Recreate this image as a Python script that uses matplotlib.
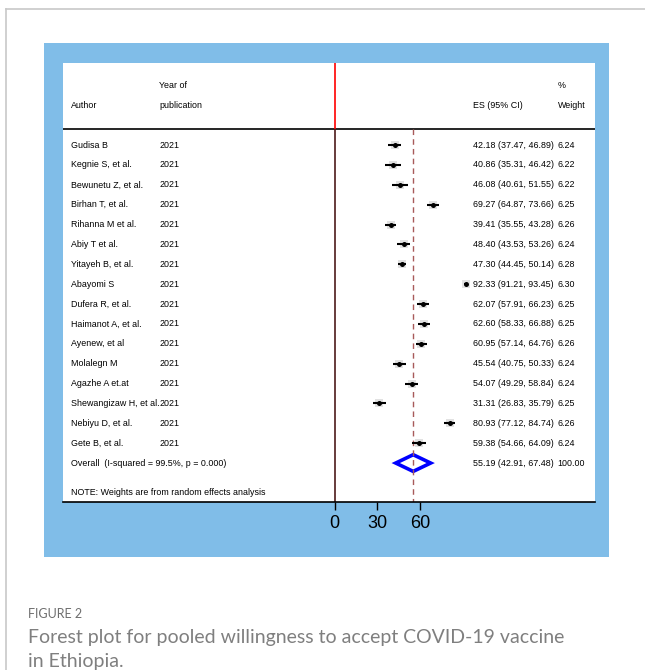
import matplotlib
matplotlib.use('Agg')
import matplotlib.pyplot as plt
from matplotlib.patches import Rectangle, Polygon
from matplotlib.lines import Line2D

authors = ["Gudisa B", "Kegnie S, et al.", "Bewunetu Z, et al.", "Birhan T, et al.",
           "Rihanna M et al.", "Abiy T et al.", "Yitayeh B, et al.", "Abayomi S",
           "Dufera R, et al.", "Haimanot A, et al.", "Ayenew, et al", "Molalegn M",
           "Agazhe A et.at", "Shewangizaw H, et al.", "Nebiyu D, et al.", "Gete B, et al."]
years = ["2021"] * 16
es = [42.18, 40.86, 46.08, 69.27, 39.41, 48.40, 47.30, 92.33, 62.07, 62.60, 60.95,
      45.54, 54.07, 31.31, 80.93, 59.38]
lo = [37.47, 35.31, 40.61, 64.87, 35.55, 43.53, 44.45, 91.21, 57.91, 58.33, 57.14,
      40.75, 49.29, 26.83, 77.12, 54.66]
hi = [46.89, 46.42, 51.55, 73.66, 43.28, 53.26, 50.14, 93.45, 66.23, 66.88, 64.76,
      50.33, 58.84, 35.79, 84.74, 64.09]
weights = [6.24, 6.22, 6.22, 6.25, 6.26, 6.24, 6.28, 6.30, 6.25, 6.25, 6.26, 6.24,
           6.24, 6.25, 6.26, 6.24]
overall_es, overall_lo, overall_hi = 55.19, 42.91, 67.48
overall_label = "Overall  (I-squared = 99.5%, p = 0.000)"
overall_weight = "100.00"
xticks = [0, 30, 60]

W, H = 645, 670
fig = plt.figure(figsize=(W / 100, H / 100), dpi=100)
fig.patch.set_facecolor('white')

def fx(x):
    return x / W

def fy(y):
    return 1 - y / H

# outer light border
fig.add_artist(Line2D([fx(6), fx(6)], [fy(9), fy(670)], color='#c8c8c8', lw=1.2, zorder=-2))
fig.add_artist(Line2D([fx(6), fx(645)], [fy(9), fy(9)], color='#c8c8c8', lw=1.2, zorder=-2))

# blue panel
fig.add_artist(Rectangle((fx(44), fy(557)), fx(609) - fx(44), fy(43) - fy(557),
                         transform=fig.transFigure, facecolor='#80bde8', edgecolor='none',
                         zorder=-1))

ax = fig.add_axes([fx(63), fy(502), fx(595) - fx(63), fy(63) - fy(502)])
ax.set_zorder(1)
ax.set_facecolor('white')
ax.set_xlim(-191, 183)
ax.set_ylim(17.96, -4.13)
for s in ['top', 'left', 'right']:
    ax.spines[s].set_visible(False)
ax.spines['bottom'].set_color('black')
ax.spines['bottom'].set_linewidth(1.2)
ax.set_yticks([])
ax.set_xticks(xticks)
ax.set_xticklabels([str(t) for t in xticks], fontsize=13, family='Liberation Sans')
ax.tick_params(axis='x', length=5.5, width=1, color='black', pad=4)

fam = 'Liberation Sans'
fs = 6.4
header_y = -0.8
n = len(authors)
overall_row = n

# header
ax.text(-185.6, -2.01, "Author", fontsize=fs, family=fam, va='center', ha='left')
ax.text(-123.5, -3.02, "Year of", fontsize=fs, family=fam, va='center', ha='left')
ax.text(-123.5, -2.01, "publication", fontsize=fs, family=fam, va='center', ha='left')
ax.text(97.2, -2.01, "ES (95% CI)", fontsize=fs, family=fam, va='center', ha='left')
ax.text(156.8, -3.02, "%", fontsize=fs, family=fam, va='center', ha='left')
ax.text(156.8, -2.01, "Weight", fontsize=fs, family=fam, va='center', ha='left')
ax.axhline(header_y, color='black', lw=1.2)

# reference lines
ax.plot([0, 0], [-4.13, header_y], color='red', lw=1.2, solid_capstyle='butt')
ax.plot([0, 0], [header_y, 17.96], color='#4d1a1a', lw=1.2, solid_capstyle='butt')
ax.plot([overall_es, overall_es], [header_y, 17.96], color='#a85a5a', lw=1.0,
        dashes=(4, 3))

for i in range(n):
    ax.text(-185.6, i, authors[i], fontsize=fs, family=fam, va='center', ha='left')
    ax.text(-123.5, i, years[i], fontsize=fs, family=fam, va='center', ha='left')
    ax.text(97.2, i, f"{es[i]:.2f} ({lo[i]:.2f}, {hi[i]:.2f})", fontsize=fs, family=fam,
            va='center', ha='left')
    ax.text(156.8, i, f"{weights[i]:.2f}", fontsize=fs, family=fam, va='center', ha='left')
    ax.plot([es[i]], [i], marker='s', markersize=5.5, color='#e2e2e2', markeredgewidth=0)
    ax.plot([lo[i], hi[i]], [i, i], color='black', lw=1.5, solid_capstyle='butt')
    ax.plot([es[i]], [i], marker='o', markersize=3.6, color='black', markeredgewidth=0)

# overall
ax.text(-185.6, overall_row, overall_label, fontsize=fs, family=fam, va='center', ha='left')
ax.text(97.2, overall_row, f"{overall_es:.2f} ({overall_lo:.2f}, {overall_hi:.2f})",
        fontsize=fs, family=fam, va='center', ha='left')
ax.text(156.8, overall_row, overall_weight, fontsize=fs, family=fam, va='center', ha='left')
dia = Polygon([(overall_lo, overall_row), (overall_es, overall_row - 0.42),
               (overall_hi, overall_row), (overall_es, overall_row + 0.42)],
              closed=True, fill=False, edgecolor='#0000ff', lw=2.6, joinstyle='miter')
ax.add_patch(dia)

ax.text(-185.6, 17.5, "NOTE: Weights are from random effects analysis", fontsize=fs,
        family=fam, va='center', ha='left')

# caption
fig.text(fx(28), fy(614), "FIGURE 2", fontsize=9, color='#6e6e6e', family='Lato',
         va='center', ha='left')
fig.text(fx(28), fy(638), "Forest plot for pooled willingness to accept COVID-19 vaccine",
         fontsize=14, color='#7f7f7f', family='Lato',
         va='center', ha='left')
fig.text(fx(28), fy(661), "in Ethiopia.", fontsize=14, color='#7f7f7f', family='Lato',
         va='center', ha='left')

fig.savefig('out.png', dpi=100)
